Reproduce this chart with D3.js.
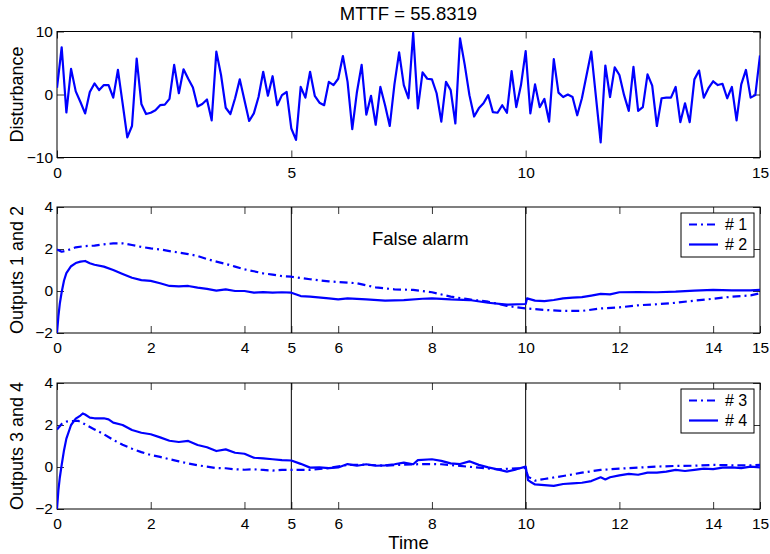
<!DOCTYPE html>
<html>
<head>
<meta charset="utf-8">
<script src="https://cdn.jsdelivr.net/npm/d3@7"></script>
<style>
  html, body { margin: 0; padding: 0; background: #fff; }
  svg { display: block; font-family: "Liberation Sans", Arial, Helvetica, sans-serif; }
</style>
</head>
<body>
<svg id="chart" width="770" height="554"></svg>
<script>
// ---- data ----
const titleText = "MTTF = 55.8319";

// Disturbance sampled every 0.1 time units, t = 0 .. 15
const distStep = 0.1;
const disturbance = [
  1.06, 7.5, -2.86, 4.07, 0.5, -1.2, -3.0, 0.4, 1.75, 0.7,
  1.5, 1.5, -0.5, 3.9, -1.4, -6.8, -5.0, 5.7, -1.5, -3.1,
  -2.9, -2.5, -1.7, -1.6, -0.7, 4.7, 0.2, 4.0, 2.5, 1.1,
  -1.9, -1.5, -0.8, -4.1, 6.8, 3.1, -2.1, -3.1, -0.6, 2.4,
  -0.9, -4.2, -3.0, -0.4, 3.6, -0.2, 2.9, -1.7, -0.1, 0.4,
  -5.4, -7.2, 1.2, -0.5, 3.6, -0.2, -1.3, -1.7, 2.0, 1.5,
  2.5, 6.1, 2.0, -5.5, 0.4, 4.7, -3.2, -0.2, -4.8, 1.2,
  -1.7, -5.0, 1.6, 6.7, 1.5, -0.6, 9.8, -2.2, 3.5, 2.5,
  2.4, 0.2, -4.3, 2.0, 0.7, -4.6, 8.9, 4.7, -0.1, -3.5,
  -2.2, -1.4, -0.1, -2.8, -2.9, -1.7, -2.9, 3.7, -2.0, 1.5,
  6.9, -3.0, 1.6, -2.0, -0.7, -4.3, 5.6, 0.3, -0.4, 0.0,
  -0.4, -3.3, -0.6, 3.1, 6.8, -0.4, -7.6, 4.6, -0.4, 4.3,
  3.1, -0.1, -2.6, 4.4, -2.6, -2.0, 3.2, 1.4, -5.0, -0.6,
  -0.5, -0.5, 1.2, -4.4, -1.4, -4.4, 2.4, 3.8, -0.5, 1.0,
  2.1, 1.5, 1.7, -0.6, 1.2, -4.1, 1.6, 3.9, -0.5, -0.1,
  6.2
];

// Output #1 (dash-dot)
const out1Time = [0, 0.1, 0.2, 0.4, 0.6, 0.8, 1.0, 1.2, 1.4, 1.6, 1.8, 2.0, 2.2, 2.4, 2.6, 2.8, 3.0, 3.2, 3.4, 3.6,
  3.8, 4.0, 4.2, 4.4, 4.6, 4.8, 5.0, 5.4, 5.8, 6.0, 6.4, 6.8, 7.2, 7.6, 8.0, 8.4, 8.8, 9.2, 9.6, 10.0,
  10.4, 10.8, 11.2, 11.6, 12.0, 12.4, 12.8, 13.2, 13.6, 14.0, 14.4, 14.8, 15.0];
const out1Value = [1.98, 1.87, 1.92, 2.08, 2.14, 2.16, 2.22, 2.27, 2.27, 2.19, 2.1, 2.03, 1.98, 1.9, 1.83, 1.76, 1.67, 1.52, 1.40, 1.29,
  1.16, 1.03, 0.94, 0.84, 0.78, 0.71, 0.68, 0.56, 0.46, 0.43, 0.37, 0.17, 0.08, 0.05, -0.06, -0.27, -0.4, -0.51, -0.71, -0.83,
  -0.9, -0.95, -0.95, -0.83, -0.78, -0.68, -0.63, -0.56, -0.46, -0.37, -0.27, -0.21, -0.11];

// Output #2 (solid)
const out2Time = [0, 0.03, 0.06, 0.1, 0.15, 0.2, 0.3, 0.4, 0.5, 0.6, 0.7, 0.8, 1.0, 1.2, 1.4, 1.6, 1.8, 2.0, 2.2, 2.4,
  2.6, 2.8, 3.0, 3.2, 3.4, 3.6, 3.8, 4.0, 4.2, 4.4, 4.6, 4.8, 5.0, 5.2, 5.4, 5.8, 6.0, 6.2, 6.6, 7.0,
  7.4, 7.8, 8.0, 8.4, 8.8, 9.2, 9.6, 10.0, 10.03, 10.2, 10.4, 10.6, 10.8, 11.0, 11.2, 11.4, 11.6, 11.8, 12.0, 12.4,
  12.8, 13.2, 13.6, 14.0, 14.4, 14.8, 15.0];
const out2Value = [-2.0, -1.2, -0.6, -0.05, 0.5, 0.85, 1.18, 1.33, 1.40, 1.43, 1.32, 1.25, 1.16, 1.0, 0.81, 0.63, 0.52, 0.48, 0.37, 0.24,
  0.22, 0.24, 0.16, 0.1, 0.02, 0.08, 0.0, 0.0, -0.08, -0.05, -0.08, -0.06, -0.08, -0.24, -0.27, -0.35, -0.4, -0.35, -0.4, -0.46,
  -0.43, -0.37, -0.35, -0.4, -0.43, -0.56, -0.65, -0.62, -0.35, -0.46, -0.48, -0.43, -0.35, -0.32, -0.29, -0.22, -0.14, -0.16, -0.06, -0.05,
  -0.06, -0.03, 0.02, 0.05, 0.03, 0.03, 0.05];

// Output #3 (dash-dot)
const out3Time = [0, 0.1, 0.2, 0.3, 0.45, 0.6, 0.8, 1.0, 1.2, 1.4, 1.6, 1.8, 2.0, 2.2, 2.4, 2.6, 2.8, 3.0, 3.2, 3.4,
  3.6, 3.8, 4.0, 4.2, 4.4, 4.6, 4.8, 5.0, 5.4, 5.8, 6.2, 6.6, 7.0, 7.4, 7.8, 8.2, 8.6, 9.0, 9.4, 9.8,
  10.0, 10.05, 10.2, 10.4, 10.8, 11.2, 11.6, 12.0, 12.4, 12.8, 13.2, 13.6, 14.0, 14.4, 14.8, 15.0];
const out3Value = [1.79, 2.05, 2.16, 2.19, 2.2, 2.03, 1.79, 1.56, 1.29, 1.06, 0.87, 0.71, 0.57, 0.48, 0.37, 0.27, 0.17, 0.08, 0.02, -0.05,
  -0.06, -0.11, -0.13, -0.11, -0.14, -0.17, -0.14, -0.14, -0.14, -0.05, 0.1, 0.11, 0.06, 0.11, 0.14, 0.13, 0.05, -0.03, -0.11, -0.06,
  -0.06, -0.46, -0.65, -0.57, -0.43, -0.27, -0.14, -0.08, -0.03, 0.02, 0.05, 0.06, 0.1, 0.08, 0.08, 0.1];

// Output #4 (solid)
const out4Time = [0, 0.03, 0.06, 0.1, 0.15, 0.2, 0.3, 0.4, 0.5, 0.55, 0.6, 0.7, 0.8, 1.0, 1.1, 1.2, 1.4, 1.6, 1.8, 2.0,
  2.2, 2.4, 2.6, 2.8, 3.0, 3.2, 3.4, 3.6, 3.8, 4.0, 4.2, 4.4, 4.6, 4.8, 5.0, 5.2, 5.4, 5.6, 5.8, 6.0,
  6.2, 6.4, 6.6, 6.8, 7.0, 7.2, 7.4, 7.6, 7.7, 8.0, 8.2, 8.4, 8.6, 8.8, 9.0, 9.2, 9.4, 9.6, 9.8, 10.0,
  10.05, 10.1, 10.2, 10.4, 10.6, 10.8, 11.0, 11.2, 11.4, 11.6, 11.7, 11.8, 12.0, 12.2, 12.4, 12.6, 12.8, 13.0, 13.2, 13.4,
  13.6, 13.8, 14.0, 14.2, 14.4, 14.6, 14.8, 15.0];
const out4Value = [-2.0, -1.1, -0.5, 0.1, 0.8, 1.35, 2.0, 2.3, 2.45, 2.55, 2.5, 2.35, 2.32, 2.32, 2.27, 2.11, 2.0, 1.76, 1.63, 1.56,
  1.41, 1.25, 1.19, 1.24, 1.05, 0.94, 0.76, 0.84, 0.68, 0.63, 0.44, 0.41, 0.37, 0.33, 0.31, 0.15, -0.03, -0.02, -0.05, -0.02,
  0.14, 0.06, 0.13, 0.06, 0.08, 0.13, 0.21, 0.13, 0.33, 0.37, 0.29, 0.17, 0.14, 0.27, 0.1, -0.02, -0.11, -0.22, -0.11, 0.02,
  -0.62, -0.7, -0.83, -0.86, -0.9, -0.81, -0.78, -0.75, -0.67, -0.49, -0.59, -0.49, -0.4, -0.33, -0.37, -0.27, -0.27, -0.22, -0.14, -0.19,
  -0.14, -0.08, -0.1, -0.03, -0.02, -0.05, 0.02, -0.02];

const eventTimes = [5, 10];
const topXTicks = [0, 5, 10, 15];
const outXTicks = [0, 2, 4, 5, 6, 8, 10, 12, 14, 15];
const topYTicks = [-10, 0, 10];
const outYTicks = [-2, 0, 2, 4];
const legend12 = ["# 1", "# 2"];
const legend34 = ["# 3", "# 4"];

// ---- layout ----
const svg = d3.select("#chart");
const left = 57, right = 760;
const panelH = 126;
const panelTops = [31.5, 207, 383];
const blue = "#0000ff";
const dashDot = "8,4,2,4";
const tickLen = 7;

const x = d3.scaleLinear().domain([0, 15]).range([left, right]);

function makePanel(i, yDomain, xTicks, yTicks, id) {
  const top = panelTops[i], bottom = top + panelH;
  const y = d3.scaleLinear().domain(yDomain).range([bottom, top]);
  const g = svg.append("g");

  g.append("rect").attr("x", left).attr("y", top).attr("width", right - left).attr("height", panelH)
    .attr("fill", "#fff");

  svg.append("clipPath").attr("id", id)
    .append("rect").attr("x", left).attr("y", top - 1).attr("width", right - left).attr("height", panelH + 2);

  const styleAxis = sel => {
    sel.select(".domain").remove();
    sel.selectAll("line").attr("stroke", "#000").attr("stroke-width", 0.8);
    sel.selectAll("text").attr("fill", "#000").attr("font-size", 15.5)
      .attr("font-family", "Liberation Sans, Arial, sans-serif");
  };

  g.append("g").attr("transform", `translate(0,${bottom})`)
    .call(d3.axisBottom(x).tickValues(xTicks).tickFormat(d3.format("d"))
      .tickSizeInner(-tickLen).tickSizeOuter(0).tickPadding(9))
    .call(styleAxis);
  g.append("g").attr("transform", `translate(0,${top})`)
    .call(d3.axisTop(x).tickValues(xTicks).tickFormat("")
      .tickSizeInner(-tickLen).tickSizeOuter(0))
    .call(styleAxis);
  g.append("g").attr("transform", `translate(${left},0)`)
    .call(d3.axisLeft(y).tickValues(yTicks).tickFormat(d => d < 0 ? "\u2212" + Math.abs(d) : d)
      .tickSizeInner(-tickLen).tickSizeOuter(0).tickPadding(4))
    .call(styleAxis);
  g.append("g").attr("transform", `translate(${right},0)`)
    .call(d3.axisRight(y).tickValues(yTicks).tickFormat("")
      .tickSizeInner(-tickLen).tickSizeOuter(0))
    .call(styleAxis);

  g.append("rect").attr("x", left).attr("y", top).attr("width", right - left).attr("height", panelH)
    .attr("fill", "none").attr("stroke", "#000").attr("stroke-width", 1);

  return { g, y, top, bottom };
}

function drawLine(p, clipId, times, values, dashed) {
  const pts = times.map((t, k) => [t, values[k]]);
  p.g.append("path")
    .attr("clip-path", `url(#${clipId})`)
    .attr("d", d3.line().x(d => x(d[0])).y(d => p.y(d[1]))(pts))
    .attr("fill", "none").attr("stroke", blue).attr("stroke-width", 2.2)
    .attr("stroke-linejoin", "round")
    .attr("stroke-dasharray", dashed ? dashDot : null);
}

function drawEvents(p) {
  eventTimes.forEach(t => {
    p.g.append("line")
      .attr("x1", x(t)).attr("x2", x(t)).attr("y1", p.top).attr("y2", p.bottom)
      .attr("stroke", "#000").attr("stroke-width", 1);
  });
}

function drawLegend(p, labels) {
  const w = 73, h = 44;
  const lx = right - 6 - w, ly = p.top + 6;
  const lg = p.g.append("g");
  lg.append("rect").attr("x", lx).attr("y", ly).attr("width", w).attr("height", h)
    .attr("fill", "#fff").attr("stroke", "#000").attr("stroke-width", 1);
  labels.forEach((lab, k) => {
    const cy = ly + 11.5 + k * 20;
    lg.append("line").attr("x1", lx + 8).attr("x2", lx + 37).attr("y1", cy).attr("y2", cy)
      .attr("stroke", blue).attr("stroke-width", 2.2)
      .attr("stroke-dasharray", k === 0 ? dashDot : null);
    lg.append("text").attr("x", lx + 44).attr("y", cy).attr("dy", "0.36em")
      .attr("font-size", 16).attr("fill", "#000").text(lab);
  });
}

function yLabel(p, text) {
  svg.append("text")
    .attr("transform", `translate(23,${(p.top + p.bottom) / 2}) rotate(-90)`)
    .attr("text-anchor", "middle").attr("font-size", 18).attr("fill", "#000")
    .text(text);
}

// ---- top: disturbance ----
const p0 = makePanel(0, [-10, 10], topXTicks, topYTicks, "clip0");
drawLine(p0, "clip0", disturbance.map((_, k) => k * distStep), disturbance, false);
yLabel(p0, "Disturbance");

// ---- middle: outputs 1 and 2 ----
const p1 = makePanel(1, [-2, 4], outXTicks, outYTicks, "clip1");
drawEvents(p1);
drawLine(p1, "clip1", out1Time, out1Value, true);
drawLine(p1, "clip1", out2Time, out2Value, false);
p1.g.append("text").attr("x", x(6.72)).attr("y", p1.y(2.19))
  .attr("font-size", 18.5).attr("fill", "#000").text("False alarm");
drawLegend(p1, legend12);
yLabel(p1, "Outputs 1 and 2");

// ---- bottom: outputs 3 and 4 ----
const p2 = makePanel(2, [-2, 4], outXTicks, outYTicks, "clip2");
drawEvents(p2);
drawLine(p2, "clip2", out3Time, out3Value, true);
drawLine(p2, "clip2", out4Time, out4Value, false);
drawLegend(p2, legend34);
yLabel(p2, "Outputs 3 and 4");

// ---- title and x label ----
svg.append("text").attr("x", (left + right) / 2).attr("y", 20)
  .attr("text-anchor", "middle").attr("font-size", 18.5).attr("fill", "#000").text(titleText);
svg.append("text").attr("x", (left + right) / 2).attr("y", 549)
  .attr("text-anchor", "middle").attr("font-size", 18.5).attr("fill", "#000").text("Time");
</script>
</body>
</html>
